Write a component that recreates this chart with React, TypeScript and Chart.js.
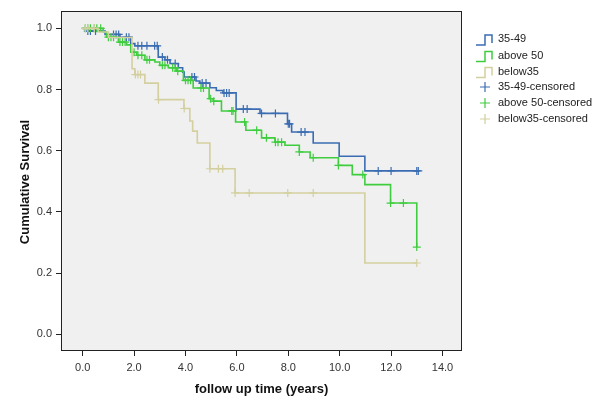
import React, { useEffect, useRef } from 'react';
import { Chart, registerables } from 'chart.js';

Chart.register(...registerables);

// ---- data ----
const groupNames = ['35-49', 'above 50', 'below35'];
const censoredNames = ['35-49-censored', 'above 50-censored', 'below35-censored'];
const groupColors = ['#3a6cb2', '#3fcd3f', '#d3cf9e'];

const timesA = [0, 0.2, 0.87, 1.45, 1.87, 2.03, 2.94, 3.2, 3.4, 3.72, 3.89, 3.95, 4.41, 4.56, 4.95, 5.2, 5.46, 5.97, 6.9, 7.97, 8.13, 8.97, 9.98, 10.98, 13.1];
const survA = [1.0, 0.991, 0.98, 0.971, 0.95, 0.943, 0.906, 0.897, 0.885, 0.871, 0.857, 0.841, 0.828, 0.821, 0.806, 0.797, 0.789, 0.736, 0.722, 0.688, 0.661, 0.625, 0.582, 0.534, 0.534];
const censorA = [0.2, 0.3, 0.5, 1.2, 1.3, 1.4, 1.7, 1.8, 2.15, 2.3, 2.5, 2.8, 2.9, 3.1, 3.3, 3.6, 4.25, 4.35, 4.65, 4.8, 5.5, 5.6, 5.7, 6.25, 6.4, 6.96, 7.5, 8.0, 8.05, 8.5, 8.65, 11.5, 12.0, 13.0, 13.06];

const timesB = [0, 0.8, 0.93, 1.39, 1.71, 1.87, 2.1, 2.42, 2.81, 3.0, 3.33, 3.66, 3.92, 4.3, 4.92, 5.08, 5.4, 5.95, 6.35, 6.96, 7.48, 7.87, 8.43, 8.85, 9.95, 10.49, 10.98, 11.98, 13.0];
const survB = [1.0, 0.988, 0.971, 0.955, 0.946, 0.922, 0.912, 0.897, 0.89, 0.879, 0.871, 0.86, 0.83, 0.805, 0.77, 0.762, 0.73, 0.694, 0.667, 0.642, 0.628, 0.618, 0.596, 0.577, 0.552, 0.522, 0.489, 0.429, 0.285];
const censorB = [0.1, 0.2, 0.3, 0.45, 0.55, 0.7, 1.0, 1.1, 1.2, 1.45, 1.55, 1.65, 2.0, 2.15, 2.3, 2.5, 2.6, 3.1, 3.2, 3.5, 3.6, 3.7, 4.0, 4.1, 4.2, 4.6, 4.7, 4.98, 5.1, 5.8, 5.85, 6.3, 6.77, 7.15, 7.5, 7.6, 7.74, 8.43, 8.97, 9.95, 10.9, 11.98, 12.48, 13.0];

const timesC = [0, 0.6, 1.0, 1.92, 2.03, 2.42, 2.94, 3.94, 4.17, 4.28, 4.46, 4.95, 5.93, 10.98, 13.0];
const survC = [1.0, 0.988, 0.97, 0.868, 0.849, 0.821, 0.767, 0.738, 0.697, 0.664, 0.625, 0.541, 0.462, 0.233, 0.233];
const censorC = [0.1, 0.2, 0.45, 2.05, 2.15, 2.25, 2.95, 3.95, 4.95, 5.28, 5.45, 5.93, 6.48, 7.98, 8.97, 13.0];

const xTicks = [0, 2, 4, 6, 8, 10, 12, 14];
const yTicks = [0, 0.2, 0.4, 0.6, 0.8, 1.0];

const xTitle = 'follow up time (years)';
const yTitle = 'Cumulative Survival';

function stepAt(times: number[], surv: number[], t: number): number {
  let v = surv[0];
  for (let i = 0; i < times.length; i++) {
    if (times[i] <= t + 1e-9) v = surv[i];
  }
  return v;
}

function linePoints(times: number[], surv: number[]) {
  return times.map((t, i) => ({ x: t, y: surv[i] }));
}

function censorPoints(times: number[], surv: number[], cens: number[]) {
  return cens.map((t) => ({ x: t, y: stepAt(times, surv, t) }));
}

const FONT = '"Liberation Sans", Arial, sans-serif';

const decorPlugin = {
  id: 'decor',
  beforeDraw(chart: any) {
    const { ctx, chartArea } = chart;
    ctx.save();
    ctx.fillStyle = '#ffffff';
    ctx.fillRect(0, 0, chart.width, chart.height);
    ctx.fillStyle = '#f0f0f0';
    ctx.fillRect(chartArea.left, chartArea.top, chartArea.right - chartArea.left, chartArea.bottom - chartArea.top);
    ctx.restore();
  },
  afterDraw(chart: any) {
    const { ctx, chartArea } = chart;
    ctx.save();
    // plot border
    ctx.strokeStyle = '#222';
    ctx.lineWidth = 1;
    ctx.strokeRect(
      Math.round(chartArea.left) + 0.5,
      Math.round(chartArea.top) + 0.5,
      Math.round(chartArea.right - chartArea.left) - 1,
      Math.round(chartArea.bottom - chartArea.top) - 1
    );
    // axis titles
    ctx.fillStyle = '#111';
    ctx.font = 'bold 13px ' + FONT;
    ctx.textAlign = 'center';
    ctx.textBaseline = 'middle';
    ctx.fillText(xTitle, (chartArea.left + chartArea.right) / 2, 389);
    ctx.save();
    ctx.translate(25, (chartArea.top + chartArea.bottom) / 2 + 1);
    ctx.rotate(-Math.PI / 2);
    ctx.fillText(yTitle, 0, 0);
    ctx.restore();

    // legend
    const centers = [39, 55.5, 71.5, 87, 103, 119];
    ctx.font = '11px ' + FONT;
    ctx.textAlign = 'left';
    ctx.textBaseline = 'middle';
    for (let i = 0; i < 3; i++) {
      const c = centers[i];
      ctx.strokeStyle = groupColors[i];
      ctx.lineWidth = 1.5;
      ctx.beginPath();
      ctx.moveTo(476, c + 6);
      ctx.lineTo(485, c + 6);
      ctx.lineTo(485, c - 4);
      ctx.lineTo(492, c - 4);
      ctx.lineTo(492, c + 4);
      ctx.stroke();
      ctx.fillStyle = '#222';
      ctx.fillText(groupNames[i], 498, c);
    }
    for (let i = 0; i < 3; i++) {
      const c = centers[i + 3];
      ctx.strokeStyle = groupColors[i];
      ctx.lineWidth = 1.2;
      ctx.beginPath();
      ctx.moveTo(480, c);
      ctx.lineTo(490, c);
      ctx.moveTo(485, c - 5);
      ctx.lineTo(485, c + 5);
      ctx.stroke();
      ctx.fillStyle = '#222';
      ctx.fillText(censoredNames[i], 498, c);
    }
    ctx.restore();
  },
};

export default function App() {
  const canvasRef = useRef<HTMLCanvasElement | null>(null);

  useEffect(() => {
    if (!canvasRef.current) return;
    const seriesTimes = [timesA, timesB, timesC];
    const seriesSurv = [survA, survB, survC];
    const seriesCens = [censorA, censorB, censorC];
    const datasets: any[] = [];
    // draw order: tan, green, blue (blue on top)
    for (const i of [2, 1, 0]) {
      datasets.push({
        type: 'line',
        label: groupNames[i],
        data: linePoints(seriesTimes[i], seriesSurv[i]),
        borderColor: groupColors[i],
        backgroundColor: groupColors[i],
        borderWidth: 1.6,
        stepped: 'before',
        pointRadius: 0,
        fill: false,
      });
      datasets.push({
        type: 'scatter',
        label: censoredNames[i],
        data: censorPoints(seriesTimes[i], seriesSurv[i], seriesCens[i]),
        borderColor: groupColors[i],
        backgroundColor: groupColors[i],
        pointStyle: 'cross',
        pointRadius: 4,
        pointBorderWidth: 1.2,
        showLine: false,
      });
    }

    const chart = new Chart(canvasRef.current, {
      type: 'line',
      data: { datasets },
      plugins: [decorPlugin],
      options: {
        animation: false,
        responsive: true,
        maintainAspectRatio: false,
        events: [],
        layout: { padding: { left: 0, right: 138, top: 11, bottom: 0 } },
        plugins: {
          legend: { display: false },
          tooltip: { enabled: false },
          title: { display: false },
        },
        scales: {
          x: {
            type: 'linear',
            min: -0.844,
            max: 14.76,
            afterFit(scale: any) {
              scale.height = 62;
            },
            afterBuildTicks(scale: any) {
              scale.ticks = xTicks.map((v) => ({ value: v }));
            },
            ticks: {
              callback: (v: any) => Number(v).toFixed(1),
              font: { family: FONT, size: 11 },
              color: '#333',
              padding: 5,
              maxRotation: 0,
              autoSkip: false,
            },
            grid: { drawOnChartArea: false, drawTicks: true, tickLength: 5, color: '#222' },
            border: { display: false },
          },
          y: {
            type: 'linear',
            min: -0.0547,
            max: 1.0567,
            afterFit(scale: any) {
              scale.width = 61;
            },
            afterBuildTicks(scale: any) {
              scale.ticks = yTicks.map((v) => ({ value: v }));
            },
            ticks: {
              callback: (v: any) => Number(v).toFixed(1),
              font: { family: FONT, size: 11 },
              color: '#333',
              padding: 4,
              autoSkip: false,
            },
            grid: { drawOnChartArea: false, drawTicks: true, tickLength: 5, color: '#222' },
            border: { display: false },
          },
        },
      } as any,
    });
    return () => chart.destroy();
  }, []);

  return (
    <div style={{ position: 'absolute', left: 0, top: 0, width: 600, height: 413, background: '#fff' }}>
      <canvas ref={canvasRef} width={600} height={413} />
    </div>
  );
}
